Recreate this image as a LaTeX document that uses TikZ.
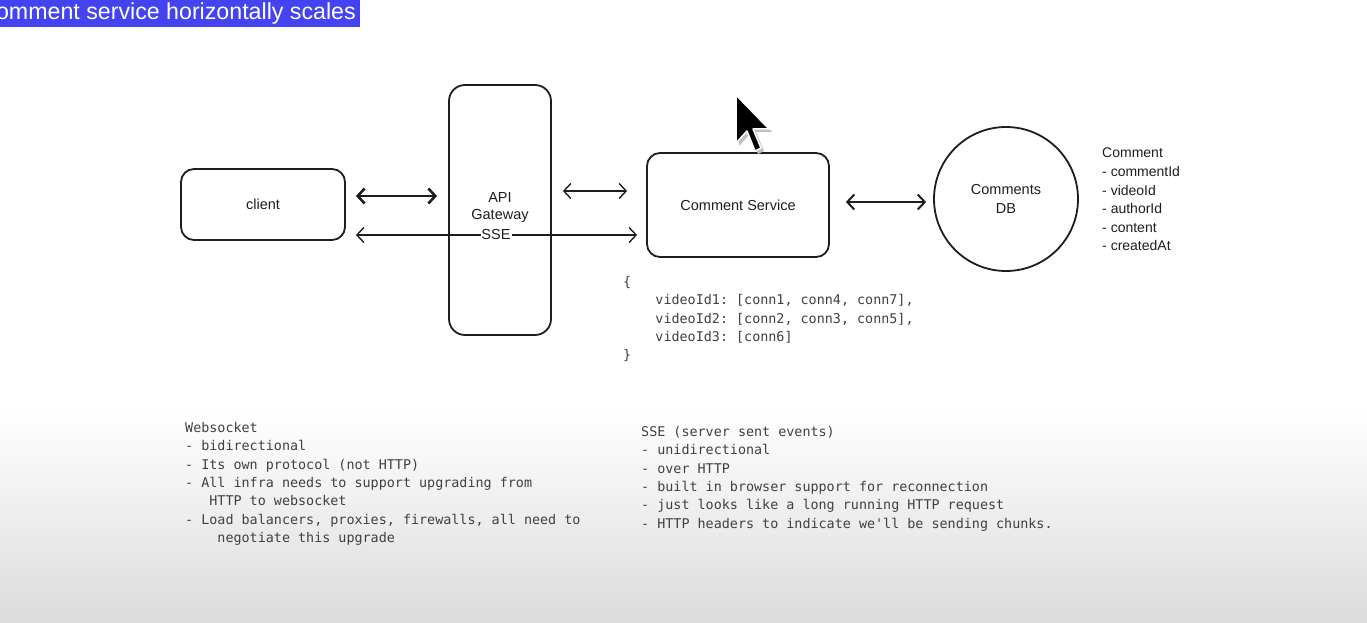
\documentclass[tikz,border=0pt]{standalone}
\usepackage{fontspec}
\setmainfont{Liberation Sans}
\setmonofont{DejaVu Sans Mono}
\usetikzlibrary{arrows.meta}
\definecolor{ink}{HTML}{1E1E1E}
\definecolor{banner}{HTML}{4343F2}
\tikzset{
  box/.style={draw=ink, line width=1.8pt, rounded corners=13pt, inner sep=0pt},
  hand/.style={font=\fontsize{14.5}{19}\selectfont, text=ink, align=center},
  mono/.style={font=\ttfamily\fontsize{13.4}{18.4}\selectfont, text=ink!85, align=left, inner sep=0pt, anchor=north west},
  barb/.tip={Straight Barb[length=7pt,width=15pt]},
  bigarr/.style={draw=ink, line width=2.6pt, barb-barb},
  smallarr/.style={draw=ink, line width=1.4pt, barb-barb},
}
\begin{document}
\begin{tikzpicture}[x=1pt,y=-1pt]
\useasboundingbox (0,0) rectangle (1367,623);
\fill[white] (0,0) rectangle (1367,410);
\shade[top color=white, bottom color=black!14] (0,410) rectangle (1367,623);
% banner
\fill[banner] (0,0) rectangle (360,27);
\begin{scope}
\clip (0,0) rectangle (360,27);
\node[anchor=east, text=white, font=\fontsize{23.2}{25}\selectfont, inner sep=0pt] (title) at (356,14) {omment service horizontally scales};
\end{scope}
% nodes
\node[box, minimum width=164, minimum height=71, hand] (client) at (263,204.5) {client};
\node[box, minimum width=102, minimum height=250, rounded corners=16pt] (gw) at (500,210) {};
\node[hand, inner sep=0pt] (gwlbl) at (500,208) {API\\[-2pt]Gateway};
\node[box, minimum width=182, minimum height=104, hand] (cs) at (738,205) {Comment Service};
\node[circle, draw=ink, line width=1.8pt, minimum size=144, inner sep=0pt, hand] (db) at (1006,199) {Comments\\[0pt]DB};
\node[hand, align=left, anchor=north west, inner sep=0pt, font=\fontsize{14}{18.6}\selectfont] (fields) at (1102,148) {Comment\\- commentId\\- videoId\\- authorId\\- content\\- createdAt};
% connectors
\draw[bigarr, shorten <=10pt, shorten >=11pt] (client.east |- 0,196) -- (gw.west |- 0,196);
\draw[smallarr, shorten <=10pt, shorten >=9pt] (client.east |- 0,235) -- node[fill=white, inner sep=1pt, hand] (sse) {SSE} (cs.west |- 0,235);
\draw[smallarr, shorten <=11pt, shorten >=19pt] (gw.east |- 0,191) -- (cs.west |- 0,191);
\draw[bigarr, line width=2pt, shorten <=16pt, shorten >=7pt] (cs.east |- 0,202) -- (db.west |- 0,202);
% code & notes
\node[mono] (map) at (623,276) {\{\\\phantom{xxxx}videoId1: [conn1, conn4, conn7],\\\phantom{xxxx}videoId2: [conn2, conn3, conn5],\\\phantom{xxxx}videoId3: [conn6]\\\}};
\node[mono] (ws) at (185,422) {Websocket\\- bidirectional\\- Its own protocol (not HTTP)\\- All infra needs to support upgrading from\\\phantom{xxx}HTTP to websocket\\- Load balancers, proxies, firewalls, all need to\\\phantom{xxxx}negotiate this upgrade};
\node[mono] (sseinfo) at (641,426) {SSE (server sent events)\\- unidirectional\\- over HTTP\\- built in browser support for reconnection\\- just looks like a long running HTTP request\\- HTTP headers to indicate we'll be sending chunks.};
% cursor
\fill[black!25] (739,98) -- (739,146) -- (750,134) -- (758,154) -- (764,151) -- (756,132) -- (772,132) -- cycle;
\draw[white, line width=1.5pt, fill=black, line join=round] (736,95) -- (736,143) -- (747,131) -- (755,151) -- (761,148) -- (753,129) -- (769,129) -- cycle;
\end{tikzpicture}
\end{document}
